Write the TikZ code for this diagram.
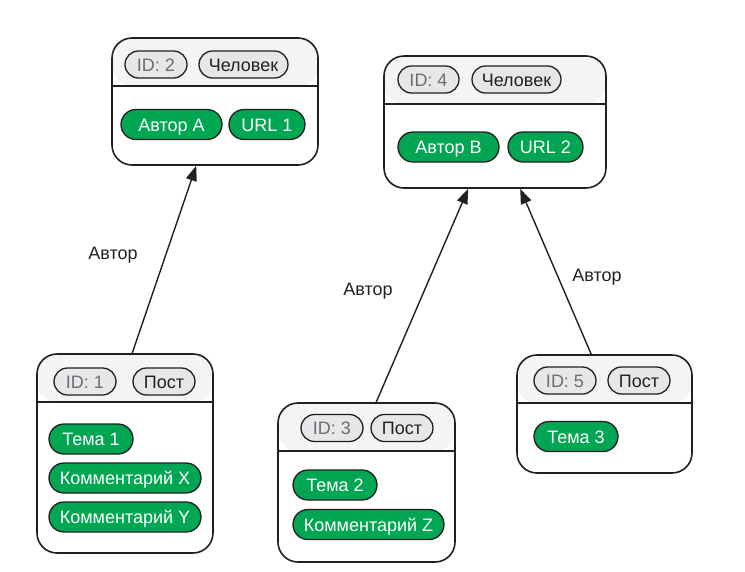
\documentclass[tikz,border=0pt]{standalone}
\usepackage{fontspec}
\setmainfont{Liberation Sans}
\usetikzlibrary{shapes.misc,calc,arrows.meta}
\definecolor{hdr}{HTML}{F4F4F4}
\definecolor{pillgray}{HTML}{E6E7E8}
\definecolor{idtext}{HTML}{6D6E71}
\definecolor{pgreen}{HTML}{00A651}
\definecolor{ink}{HTML}{231F20}
\tikzset{
  card/.style={draw=ink, line width=1.6pt, rounded corners=20pt, fill=white,
    inner sep=0pt,
    path picture={
      \fill[hdr] (path picture bounding box.north west) rectangle ([yshift=-48pt]path picture bounding box.north east);
      \draw[ink, line width=1.6pt] ([yshift=-48pt]path picture bounding box.north west) -- ([yshift=-48pt]path picture bounding box.north east);
    }},
  pill/.style={rounded rectangle, draw=ink, line width=1.3pt, inner sep=0pt,
    text height=13pt, text depth=0pt,
    minimum height=27pt, font=\fontsize{18}{21}\selectfont},
  idpill/.style={pill, fill=pillgray, text=idtext},
  typepill/.style={pill, fill=pillgray, text=ink},
  gpill/.style={pill, fill=pgreen, text=white, minimum height=30pt},
  lbl/.style={font=\fontsize{18}{21}\selectfont, text=ink},
  arr/.style={draw=ink, line width=1.4pt, -{Triangle[length=15pt,width=11pt]}}
}
\begin{document}
\begin{tikzpicture}[x=1pt,y=-1pt]
\useasboundingbox (0,0) rectangle (745,571);
% person cards
\node[card, minimum width=206pt, minimum height=127pt] (b1) at (215,101.5) {};
\node[idpill, minimum width=62pt] (b1id) at (156,64.5) {ID: 2};
\node[typepill, minimum width=89pt] (b1t) at (243.5,64.5) {Человек};
\node[gpill, minimum width=101pt] (b1a) at (171.5,124.5) {Автор А};
\node[gpill, minimum width=76pt] (b1u) at (267,124.5) {URL 1};

\node[card, minimum width=222pt, minimum height=132pt] (b2) at (495,122) {};
\node[idpill, minimum width=61pt] (b2id) at (428.5,79.5) {ID: 4};
\node[typepill, minimum width=89pt] (b2t) at (516.5,79.5) {Человек};
\node[gpill, minimum width=101pt] (b2a) at (448.5,147) {Автор В};
\node[gpill, minimum width=75pt] (b2u) at (545.5,147) {URL 2};

% post cards
\node[card, minimum width=176pt, minimum height=199pt] (p1) at (125,453.5) {};
\node[idpill, minimum width=62pt] (p1id) at (85,381.5) {ID: 1};
\node[typepill, minimum width=62pt] (p1t) at (164,381.5) {Пост};
\node[gpill, minimum width=84pt] (p1a) at (91,439) {Тема 1};
\node[gpill, minimum width=152pt] (p1b) at (125,478) {Комментарий X};
\node[gpill, minimum width=152pt] (p1c) at (125,517) {Комментарий Y};

\node[card, minimum width=177pt, minimum height=159pt] (p3) at (366.5,482.5) {};
\node[idpill, minimum width=62pt] (p3id) at (332,428) {ID: 3};
\node[typepill, minimum width=62pt] (p3t) at (402,428) {Пост};
\node[gpill, minimum width=84pt] (p3a) at (335,485) {Тема 2};
\node[gpill, minimum width=151pt] (p3b) at (368.5,524.5) {Комментарий Z};

\node[card, minimum width=175pt, minimum height=118pt] (p5) at (604.5,414) {};
\node[idpill, minimum width=62pt] (p5id) at (565,380.5) {ID: 5};
\node[typepill, minimum width=62pt] (p5t) at (639,380.5) {Пост};
\node[gpill, minimum width=84pt] (p5a) at (576,436.5) {Тема 3};

% connector end points on the card borders
\coordinate (e1) at ($(b1.south west)+(85,0)$);
\coordinate (e2) at ($(b2.south west)+(85,0)$);
\coordinate (e3) at ($(b2.south west)+(137,0)$);
\coordinate (s1) at ($(p1.north west)+(96,0)$);
\coordinate (s3) at ($(p3.north west)+(99,0)$);
\coordinate (s5) at ($(p5.north west)+(75,0)$);

\draw[arr] (s1) -- (e1);
\draw[arr] (s3) -- (e2);
\draw[arr] (s5) -- (e3);

\node[lbl] (l1) at (113,255) {Автор};
\node[lbl] (l2) at (368,291) {Автор};
\node[lbl] (l3) at (597,277) {Автор};
\end{tikzpicture}
\end{document}
